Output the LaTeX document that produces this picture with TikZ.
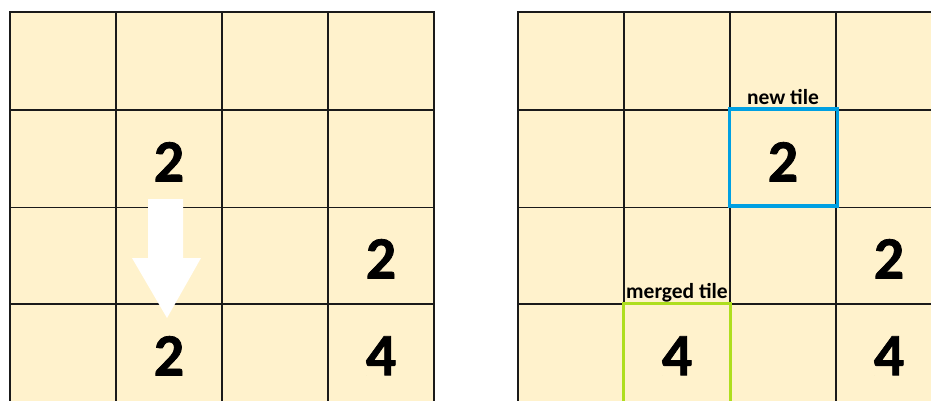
\documentclass[tikz,border=0pt]{standalone}
\usepackage{fontspec}
\setmainfont{Carlito}
\newfontfamily\digitfont[FakeBold=1.2]{Carlito Bold}
\definecolor{tilebg}{RGB}{255,242,204}
\definecolor{gridcol}{RGB}{26,26,26}
\definecolor{newblue}{RGB}{0,160,226}
\definecolor{mergegreen}{RGB}{174,222,30}
\begin{document}
\begin{tikzpicture}[x=1pt,y=-1pt,
  cell/.style={fill=tilebg,draw=none,minimum width=106pt,minimum height=97.5pt,inner sep=0pt,outer sep=0pt},
  gridline/.style={draw=gridcol,line width=1.8pt},
  thinline/.style={draw=gridcol,line width=0.9pt},
  digit/.style={font=\fontsize{60}{60}\selectfont\digitfont,inner sep=0pt,text=black},
  tilelabel/.style={font=\fontsize{21.5}{24}\selectfont\bfseries,inner sep=0pt,text=black},
  markbox/.style={line width=3.8pt}]
\clip (0,0) rectangle (931,401);
\fill[white] (0,0) rectangle (931,401);
% cells
\foreach \gx/\g in {10/L,518/R} {
  \foreach \c in {1,2,3,4} {
    \foreach \r/\ry in {1/12,2/110,3/207,4/304} {
      \node[cell] (\g\c\r) at ({\gx+(\c-0.5)*106},{\ry+48.75}) {};
    }
  }
}
% grid lines
\foreach \gx in {10,518} {
  \foreach \k in {0,1,2,3,4} {
    \draw[gridline] ({\gx+\k*106},12) -- ({\gx+\k*106},410);
  }
  \foreach \yy in {12,110,304} {
    \draw[gridline] (\gx-0.9,\yy) -- ({\gx+424.9},\yy);
  }
  \draw[thinline] (\gx,207) -- ({\gx+424},207);
}
% arrow (left grid)
\fill[white] (148,199) -- (183,199) -- (183,258) -- (201,258) -- (167,318) -- (132,258) -- (148,258) -- cycle;
% digits left
\node[digit] (dL22) at ([yshift=-3pt]L22.center) {2};
\node[digit] (dL24) at ([yshift=-3pt]L24.center) {2};
\node[digit] (dL43) at ([yshift=-3pt]L43.center) {2};
\node[digit] (dL44) at ([yshift=-3pt]L44.center) {4};
% digits right
\node[digit] (dR32) at ([yshift=-3pt]R32.center) {2};
\node[digit] (dR43) at ([yshift=-3pt]R43.center) {2};
\node[digit] (dR24) at ([yshift=-3pt]R24.center) {4};
\node[digit] (dR44) at ([yshift=-3pt]R44.center) {4};
% highlight boxes
\draw[markbox,newblue] ([xshift=-0.5pt,yshift=1pt]R32.north west) rectangle ([xshift=1.5pt,yshift=1.5pt]R32.south east);
\draw[markbox,mergegreen] ([xshift=-0.5pt,yshift=0.5pt]R24.north west) rectangle ([xshift=0.5pt,yshift=-20pt]R24.south east);
% labels
\node[tilelabel,anchor=base] (newlbl) at ([yshift=5pt]R32.north) {new tile};
\node[tilelabel,anchor=base] (mergelbl) at ([yshift=6pt]R24.north) {merged tile};
\end{tikzpicture}
\end{document}
